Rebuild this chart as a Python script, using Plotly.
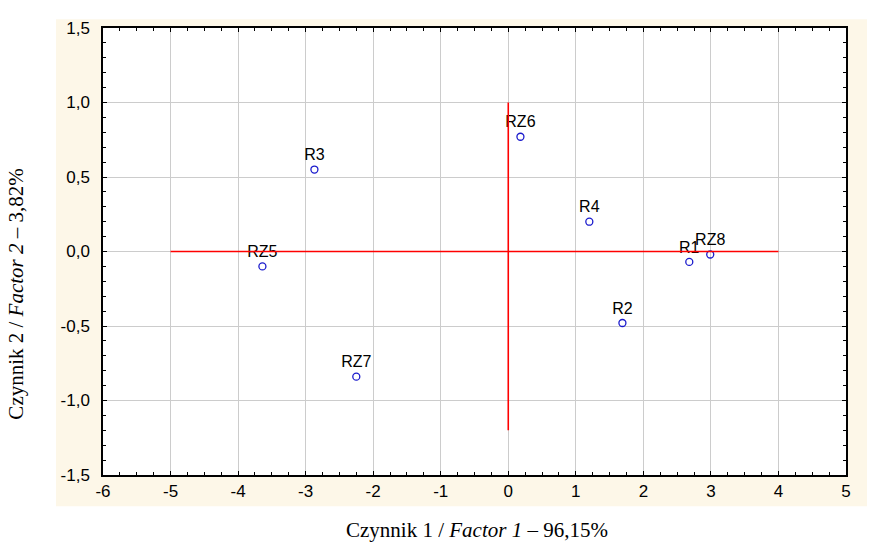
import plotly.graph_objects as go

# Data
labels = ["R1", "R2", "R3", "R4", "RZ5", "RZ6", "RZ7", "RZ8"]
factor1 = [2.68, 1.69, -2.87, 1.20, -3.64, 0.18, -2.25, 2.99]
factor2 = [-0.07, -0.48, 0.55, 0.20, -0.10, 0.77, -0.84, -0.02]

# Reference (red) axes lines
hline_x = [-5, 4]
hline_y = [0, 0]
vline_x = [0, 0]
vline_y = [-1.2, 1.0]

x_ticks = [-6, -5, -4, -3, -2, -1, 0, 1, 2, 3, 4, 5]
x_ticktext = ["-6", "-5", "-4", "-3", "-2", "-1", "0", "1", "2", "3", "4", "5"]
y_ticks = [-1.5, -1.0, -0.5, 0.0, 0.5, 1.0, 1.5]
y_ticktext = ["-1,5", "-1,0", "-0,5", "0,0", "0,5", "1,0", "1,5"]

# page body has an 8px margin: work in window pixels, convert to figure pixels
OFF = 8
W, H = 875 - OFF, 544 - OFF
plot_left, plot_right, plot_top, plot_bottom = 103, 846, 19, 475
L = plot_left - OFF
R = W - (plot_right - OFF)
T = plot_top - OFF
B = H - (plot_bottom - OFF)
pw, ph = W - L - R, H - T - B

def px_to_paper_x(px):
    return (px - OFF - L) / pw

def px_to_paper_y(py):
    return (H - B - (py - OFF)) / ph

fig = go.Figure()

fig.add_trace(go.Scatter(
    x=factor1, y=factor2, mode="markers+text", text=labels,
    textposition="top center",
    textfont=dict(family="Liberation Sans, Arial", size=16, color="#000000"),
    marker=dict(symbol="circle-open", size=7, color="#1a1acc", line=dict(width=1.3, color="#1a1acc")),
    hoverinfo="skip"))
fig.add_trace(go.Scatter(x=hline_x, y=hline_y, mode="lines",
                         line=dict(color="#ff0000", width=1.6), hoverinfo="skip"))
fig.add_trace(go.Scatter(x=vline_x, y=vline_y, mode="lines",
                         line=dict(color="#ff0000", width=1.6), hoverinfo="skip"))

axis_font = dict(family="Liberation Sans, Arial", size=17, color="#000000")

fig.update_xaxes(range=[-6, 5], tickvals=x_ticks, ticktext=x_ticktext,
                 showgrid=True, gridcolor="#cccccc", gridwidth=1,
                 zeroline=False, showline=True, linecolor="#000000", linewidth=1.5,
                 mirror="ticks", ticks="inside", ticklen=4, tickcolor="#000000",
                 minor=dict(dtick=0.25, ticks="inside", ticklen=3, tickcolor="#000000", showgrid=False),
                 tickfont=axis_font)
fig.update_yaxes(range=[-1.5, 1.5], tickvals=y_ticks, ticktext=y_ticktext,
                 showgrid=True, gridcolor="#cccccc", gridwidth=1,
                 zeroline=False, showline=True, linecolor="#000000", linewidth=1.5,
                 mirror="ticks", ticks="inside", ticklen=4, tickcolor="#000000",
                 minor=dict(dtick=0.1, ticks="inside", ticklen=3, tickcolor="#000000", showgrid=False),
                 tickfont=axis_font, ticklabelposition="outside", ticklabelshift=0,
                 ticklabelstandoff=8)

# cream frame around the plot area
fig.add_shape(type="rect", xref="paper", yref="paper",
              x0=px_to_paper_x(56), x1=px_to_paper_x(880),
              y0=px_to_paper_y(507), y1=px_to_paper_y(10),
              fillcolor="#fdf7e8", line=dict(width=0), layer="below")
fig.add_shape(type="rect", xref="paper", yref="paper",
              x0=0, x1=1, y0=0, y1=1,
              fillcolor="#ffffff", line=dict(width=0), layer="below")

fig.add_annotation(text="Czynnik 1 / <i>Factor 1</i> – 96,15%", xref="paper", yref="paper",
                   x=px_to_paper_x(477), y=px_to_paper_y(531), xanchor="center", yanchor="middle",
                   showarrow=False,
                   font=dict(family="Liberation Serif, Times New Roman", size=21, color="#000000"))
fig.add_annotation(text="Czynnik 2 / <i>Factor 2</i> – 3,82%", xref="paper", yref="paper",
                   x=px_to_paper_x(16), y=px_to_paper_y(291), xanchor="center", yanchor="middle",
                   textangle=-90, showarrow=False,
                   font=dict(family="Liberation Serif, Times New Roman", size=21, color="#000000"))

fig.update_layout(width=W, height=H, margin=dict(l=L, r=R, t=T, b=B),
                  paper_bgcolor="#ffffff", plot_bgcolor="#ffffff",
                  showlegend=False)

fig.write_html("out.html")
